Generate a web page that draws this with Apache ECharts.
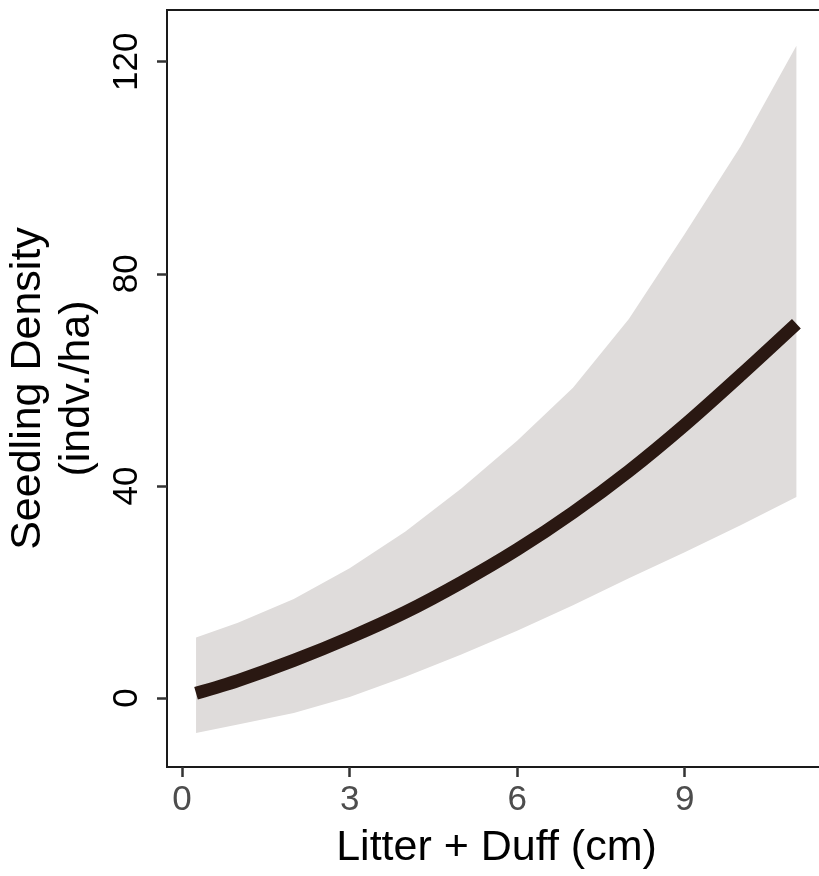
<!DOCTYPE html>
<html>
<head>
<meta charset="utf-8">
<title>Seedling Density vs Litter + Duff</title>
<script src="https://cdn.jsdelivr.net/npm/echarts@6/dist/echarts.min.js"></script>
<style>
  html, body { margin: 0; padding: 0; background: #ffffff; }
  #chart { width: 819px; height: 876px; }
</style>
</head>
<body>
<div id="chart"></div>
<script>
// Litter + duff depth (cm) at which the model curve is evaluated
const depth = [0.25, 1, 2, 3, 4, 5, 6, 7, 8, 9, 10, 11];
// Fitted seedling density (indv./ha)
const fitted = [0.9, 3.3, 7.1, 11.4, 16.2, 21.8, 28.0, 35.0, 42.8, 51.5, 60.9, 70.6];
// Confidence band limits
const lower = [-6.6, -5.0, -2.8, 0.2, 4.0, 8.2, 12.7, 17.5, 22.6, 27.5, 32.6, 37.9];
const upper = [11.4, 14.2, 18.7, 24.5, 31.4, 39.5, 48.5, 58.5, 71.5, 87.5, 104.0, 123.0];
// Tick labels
const xTicks = [0, 3, 6, 9];
const yTicks = [0, 40, 80, 120];

const pairs = (ys) => depth.map((x, i) => [x, ys[i]]);
// One row per depth: x, lower limit, upper limit
const bandRows = depth.map((x, i) => [x, lower[i], upper[i]]);

const chart = echarts.init(document.getElementById('chart'), null, { renderer: 'canvas' });

const tickStyle = { show: true, length: 10, lineStyle: { color: '#333333', width: 2.5 } };

// Draws the whole confidence ribbon as one polygon: along the upper limit, back along the lower
function renderBand(params, api) {
  if (params.dataIndex !== 0) return null;
  const top = bandRows.map(r => api.coord([r[0], r[2]]));
  const bottom = bandRows.map(r => api.coord([r[0], r[1]])).reverse();
  return {
    type: 'polygon',
    shape: { points: top.concat(bottom) },
    style: { fill: '#dfdcdb' },
    silent: true
  };
}

chart.setOption({
  animation: false,
  backgroundColor: '#ffffff',
  grid: {
    left: 167, top: 10, right: -7, bottom: 109,
    show: true, borderColor: '#1a1a1a', borderWidth: 2, backgroundColor: 'transparent',
    containLabel: false,
    outerBoundsMode: 'none'
  },
  xAxis: {
    type: 'value',
    min: -0.27, max: 11.53,
    name: 'Litter + Duff (cm)',
    nameLocation: 'middle',
    nameGap: 60,
    nameTextStyle: { fontFamily: 'Liberation Sans', fontSize: 43, color: '#000000' },
    axisLine: { show: false, onZero: false },
    axisTick: Object.assign({ customValues: xTicks }, tickStyle),
    axisLabel: {
      customValues: xTicks, margin: 16,
      fontFamily: 'Liberation Sans', fontSize: 35, color: '#4d4d4d'
    },
    splitLine: { show: false }
  },
  yAxis: {
    type: 'value',
    min: -13.0, max: 129.75,
    name: 'Seedling Density\n(indv./ha)',
    nameLocation: 'middle',
    nameRotate: 90,
    nameGap: 62,
    nameTextStyle: { fontFamily: 'Liberation Sans', fontSize: 43, lineHeight: 49, color: '#000000', align: 'center' },
    axisLine: { show: false, onZero: false },
    axisTick: Object.assign({ customValues: yTicks }, tickStyle),
    axisLabel: {
      customValues: yTicks, rotate: 90, margin: 22,
      fontFamily: 'Liberation Sans', fontSize: 35, color: '#000000'
    },
    splitLine: { show: false }
  },
  series: [
    {
      name: 'band',
      type: 'custom',
      renderItem: renderBand,
      data: bandRows,
      encode: { x: 0, y: [1, 2] },
      silent: true,
      z: 1
    },
    {
      name: 'fitted',
      type: 'line',
      data: pairs(fitted),
      symbol: 'none',
      smooth: 0.3,
      lineStyle: { color: '#2a1812', width: 13, cap: 'butt' },
      z: 5
    }
  ]
});
</script>
</body>
</html>
